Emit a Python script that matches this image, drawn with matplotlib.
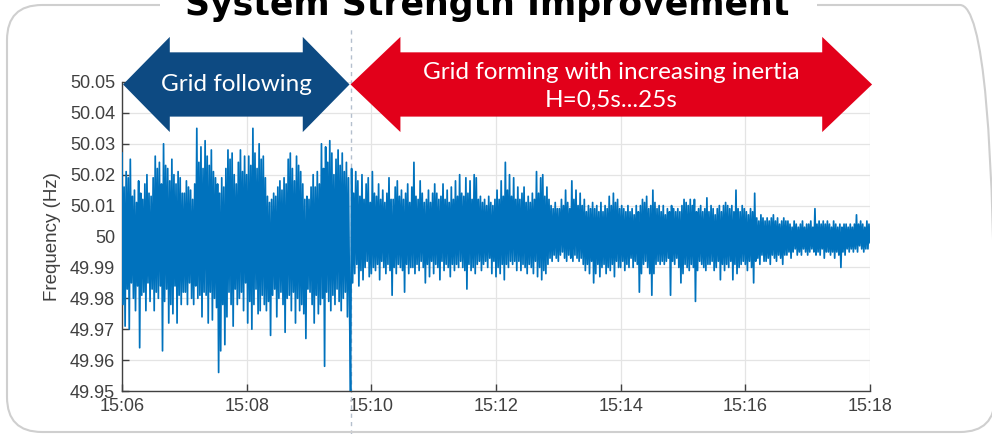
import numpy as np
import matplotlib.pyplot as plt
from matplotlib.patches import Polygon, FancyBboxPatch, Rectangle
from matplotlib.transforms import IdentityTransform


# ------------------------------------------------------------
# Measured grid frequency, deviation from 50 Hz in mHz,
# one sample per second starting 15:06:00 (20 s per row)
# ------------------------------------------------------------
SAMPLE_STEP_S = 1
freq_dev_mhz = [
    27, -22, 16, -29, 21, -17, 19, -30, 25, -15, 13, -20, 15, -24, 11, -16, 18, -36, 14, -19,
    12, -18, 17, -24, 20, -15, 14, -21, 13, -17, 19, -24, 26, -18, 22, -20, 24, -16, 17, -37,
    30, -21, 23, -17, 22, -28, 18, -22, 25, -25, 20, -16, 17, -28, 21, -19, 19, -22, 14, -18,
    14, -18, 18, -22, 16, -15, 15, -20, 12, -22, 17, -16, 35, -20, 24, -19, 29, -26, 22, -18,
    31, -19, 26, -28, 23, -18, 28, -27, 21, -20, 19, -23, 17, -44, 14, -37, 19, -22, 16, -35,
    22, -26, 28, -18, 25, -22, 27, -29, 20, -17, 17, -22, 24, -20, 28, -18, 21, -24, 26, -15,
    20, -28, 26, -21, 23, -30, 35, -22, 27, -17, 22, -25, 30, -24, 25, -19, 26, -22, 19, -24,
    13, -21, 11, -32, 12, -19, 14, -17, 13, -26, 16, -20, 18, -18, 15, -22, 19, -31, 17, -20,
    25, -19, 27, -24, 22, -18, 18, -28, 26, -20, 23, -24, 21, -22, 17, -25, 12, -33, 13, -17,
    12, -18, 16, -22, 20, -28, 16, -19, 21, -25, 17, -22, 30, -20, 22, -42, 29, -18, 24, -21,
    31, -24, 27, -19, 20, -22, 25, -17, 28, -21, 23, -24, 27, -20, 21, -18, 24, -26, 19, -22,
    -50, 22, -15, 14, -12, 21, -9, 18, -16, 13, -11, 20, -14, 12, -10, 17, -8, 19, -13, 11,
    -12, 21, -10, 14, -11, 13, -9, 17, -14, 12, -8, 15, -10, 11, -12, 14, -9, 19, -11, 12,
    -19, 12, -10, 16, -12, 18, -9, 13, -10, 15, -11, 12, -18, 14, -9, 17, -12, 11, -10, 16,
    -10, 24, -12, 13, -9, 12, -11, 18, -8, 14, -10, 11, -15, 12, -9, 15, -13, 11, -8, 14,
    -12, 17, -9, 14, -10, 12, -14, 13, -8, 17, -11, 12, -9, 15, -10, 11, -13, 16, -9, 12,
    -11, 18, -9, 13, -10, 20, -8, 14, -10, 13, -11, 19, -17, 14, -9, 18, -11, 12, -10, 20,
    -12, 19, -9, 12, -8, 13, -11, 11, -9, 12, -8, 10, -10, 13, -7, 11, -12, 10, -8, 12,
    -13, 15, -10, 12, -12, 18, -9, 13, -14, 24, -9, 15, -10, 20, -8, 13, -9, 19, -8, 12,
    -11, 16, -8, 12, -11, 14, -9, 16, -10, 11, -12, 13, -9, 11, -10, 14, -12, 12, -8, 21,
    -13, 14, -10, 19, -14, 20, -11, 13, -12, 16, -9, 12, -7, 10, -8, 9, -6, 11, -7, 9,
    -8, 9, -6, 12, -5, 10, -7, 15, -8, 11, -6, 9, -7, 18, -8, 12, -6, 15, -7, 10,
    -8, 14, -7, 10, -9, 12, -11, 8, -9, 10, -12, 9, -8, 11, -15, 9, -12, 10, -9, 8,
    -13, 11, -10, 8, -9, 10, -12, 9, -10, 13, -11, 10, -9, 14, -13, 11, -8, 12, -10, 9,
    -10, 10, -8, 9, -11, 8, -9, 10, -10, 8, -7, 9, -10, 7, -8, 10, -9, 8, -18, 10,
    -12, 12, -9, 11, -8, 13, -10, 9, -12, 10, -19, 15, -12, 11, -9, 9, -8, 10, -9, 8,
    -8, 10, -9, 7, -8, 9, -7, 8, -19, 10, -8, 9, -9, 8, -7, 9, -10, 8, -15, 10,
    -12, 12, -9, 11, -10, 10, -11, 12, -9, 10, -10, 12, -21, 8, -11, 9, -8, 10, -9, 8,
    -10, 9, -11, 12.5, -9, 8, -9, 10, -8, 9, -11, 7, -10, 9, -8, 10, -14, 8, -9, 10,
    -11, 11, -9, 10, -10, 9, -8, 10, -14, 8, -9, 15, -12, 9, -10, 8, -9, 10, -8, 9,
    -9, 8, -11, 7, -8, 9, -10, 8, -15, 14, -8, 6, -7, 5, -9, 7, -6, 6, -8, 5,
    -8, 6, -7, 5, -9, 6, -6, 7, -7, 5, -8, 6, -6, 4, -7, 5, -9, 6, -6, 5,
    -6, 5, -5, 4, -7, 3, -5, 5, -4, 4, -6, 3, -5, 4, -6, 5, -4, 3, -5, 4,
    -6, 4, -5, 5, -4, 3, -5, 9, -6, 4, -5, 5, -6, 4, -4, 5, -7, 4, -5, 5,
    -5, 4, -6, 3, -5, 5, -7, 4, -5, 3, -6, 4, -10, 3, -5, 4, -6, 4, -4, 3,
    -5, 4, -4, 3, -5, 4, -4, 7, -5, 4, -3, 5, -4, 4, -5, 3, -4, 5, -4, 4,
    -2,
]

# axis ticks
x_tick_s = [0, 120, 240, 360, 480, 600, 720]
x_tick_labels = ["15:06", "15:08", "15:10", "15:12", "15:14", "15:16", "15:18"]
y_ticks = [49.95, 49.96, 49.97, 49.98, 49.99, 50.0, 50.01, 50.02, 50.03, 50.04, 50.05]
y_tick_labels = ["49.95", "49.96", "49.97", "49.98", "49.99", "50",
                 "50.01", "50.02", "50.03", "50.04", "50.05"]

# control mode switch (s after 15:06:00)
switch_s = 220
end_s = 722

LINE_BLUE = "#0072BD"
ARROW_BLUE = "#0d4a82"
ARROW_RED = "#e2001a"
TICK_GREY = "#404040"


def double_arrow(ax, x0, x1, yc, head_half, body_half, head_len, color):
    pts = [
        (x0, yc), (x0 + head_len, yc + head_half), (x0 + head_len, yc + body_half),
        (x1 - head_len, yc + body_half), (x1 - head_len, yc + head_half), (x1, yc),
        (x1 - head_len, yc - head_half), (x1 - head_len, yc - body_half),
        (x0 + head_len, yc - body_half), (x0 + head_len, yc - head_half),
    ]
    ax.add_patch(Polygon(pts, closed=True, facecolor=color, edgecolor="none",
                         clip_on=False, zorder=6))


fig = plt.figure(figsize=(9.92, 4.34), dpi=100)
ax = fig.add_axes([122 / 992, 43 / 434, 748 / 992, 309 / 434])

# outer rounded frame with the heading cut into its top edge
frame = FancyBboxPatch((7, 2), 988, 427, boxstyle="round,pad=0,rounding_size=35",
                       transform=IdentityTransform(), facecolor="none",
                       edgecolor="#cfcfcf", linewidth=1.5, zorder=0)
fig.patches.append(frame)
fig.patches.append(Rectangle((160, 420), 657, 14, transform=IdentityTransform(),
                             facecolor="white", edgecolor="none", zorder=1))
fig.text(487 / 992, 1 - 15 / 434, "System Strength Improvement", ha="center",
         va="baseline", fontsize=25, fontweight="bold", color="black", zorder=2)

# frequency trace
freq = 50 + np.array(freq_dev_mhz) / 1000.0
t = np.arange(len(freq)) * SAMPLE_STEP_S
ax.plot(t, freq, color=LINE_BLUE, linewidth=1.25, zorder=4)

# switch-over marker
ax.plot([switch_s, switch_s], [49.936, 50.067], color="#b4bfcd", linewidth=1,
        linestyle=(0, (3, 3)), clip_on=False, zorder=2)

# operating mode arrows
double_arrow(ax, 1, switch_s - 1, 50.0492, 0.0154, 0.0104, 45, ARROW_BLUE)
double_arrow(ax, switch_s, end_s, 50.0492, 0.0154, 0.0104, 48, ARROW_RED)
ax.text(switch_s / 2, 50.0492, "Grid following", ha="center", va="center",
        fontsize=17.5, family="Lato", color="white", zorder=7)
ax.text((switch_s + end_s) / 2, 50.0532, "Grid forming with increasing inertia",
        ha="center", va="center", fontsize=17.5, family="Lato", color="white", zorder=7)
ax.text((switch_s + end_s) / 2, 50.0442, "H=0,5s...25s",
        ha="center", va="center", fontsize=17.5, family="Lato", color="white", zorder=7)

ax.set_xlim(0, 720)
ax.set_ylim(49.95, 50.05)
ax.set_xticks(x_tick_s)
ax.set_xticklabels(x_tick_labels)
ax.set_yticks(y_ticks)
ax.set_yticklabels(y_tick_labels)
ax.tick_params(direction="in", length=5, width=1, colors=TICK_GREY,
               labelsize=13, pad=5)
for lab in ax.get_xticklabels() + ax.get_yticklabels():
    lab.set_family("Liberation Sans")
ax.set_ylabel("Frequency (Hz)", fontsize=13.5, family="Liberation Sans",
              color=TICK_GREY, labelpad=6)
ax.grid(True, color="#e4e4e4", linewidth=0.9)
ax.set_axisbelow(True)
for side in ["top", "right"]:
    ax.spines[side].set_visible(False)
for side in ["left", "bottom"]:
    ax.spines[side].set_color(TICK_GREY)
    ax.spines[side].set_linewidth(1)

fig.savefig("out.png", dpi=100)
